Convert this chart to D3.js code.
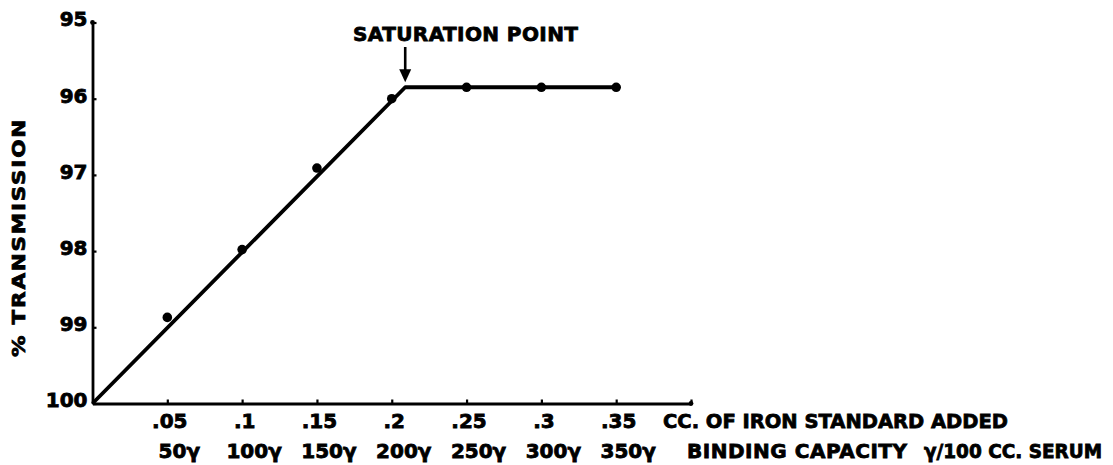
<!DOCTYPE html>
<html>
<head>
<meta charset="utf-8">
<script src="https://cdn.jsdelivr.net/npm/d3@7"></script>
<style>
  html, body { margin: 0; padding: 0; background: #fff; }
  svg text { font-family: "DejaVu Sans", "Liberation Sans", sans-serif; font-weight: bold; fill: #000; stroke: #000; stroke-width: 0.8px; }
</style>
</head>
<body>
<svg id="chart" width="1113" height="465"></svg>
<script>
// ---- data ----
const xTickValues = [0.05, 0.10, 0.15, 0.20, 0.25, 0.30, 0.35, 0.40];
const xTickLabels = [".05", ".1", ".15", ".2", ".25", ".3", ".35", ""];
const xTickLabels2 = ["50γ", "100γ", "150γ", "200γ", "250γ", "300γ", "350γ"];
const yTickValues = [95, 96, 97, 98, 99, 100];
const yTickLabels = ["95", "96", "97", "98", "99", "100"];

// measured points (cc of iron standard added, % transmission)
const pointX = [0.05, 0.10, 0.15, 0.20, 0.25, 0.30, 0.35];
const pointY = [98.87, 97.98, 96.91, 96.00, 95.85, 95.85, 95.85];

// fitted line: linear rise to saturation point, then flat
const fitX = [0, 0.209, 0.35];
const fitY = [100, 95.85, 95.85];

const saturationX = 0.209;
const saturationY = 95.85;

const xTitle1 = "CC. OF IRON STANDARD ADDED";
const xTitle2a = "BINDING CAPACITY";
const xTitle2b = "γ/100 CC. SERUM";
const yTitle = "% TRANSMISSION";
const annotation = "SATURATION POINT";

// ---- drawing ----
const svg = d3.select("#chart");
const x = d3.scaleLinear().domain([0, 0.40]).range([92.5, 691]);
const y = d3.scaleLinear().domain([95, 100]).range([22.5, 403.5]);

// x axis
const xAxis = d3.axisBottom(x)
  .tickValues(xTickValues)
  .tickFormat((d, i) => xTickLabels[i])
  .tickSize(-4)
  .tickSizeOuter(0)
  .tickPadding(10);
const gx = svg.append("g").attr("transform", `translate(0,${y(100)})`).call(xAxis);
gx.select(".domain").attr("stroke", "#000").attr("stroke-width", 2.8);
gx.selectAll(".tick line").attr("stroke", "#000").attr("stroke-width", 2.2);
gx.selectAll(".tick text").attr("font-size", 20).attr("dx", 2)
  .attr("font-family", "DejaVu Sans").attr("font-weight", "bold").attr("fill", "#000");

// second row of x labels
svg.append("g").selectAll("text")
  .data(xTickLabels2)
  .join("text")
  .attr("x", (d, i) => x(xTickValues[i]) + 12)
  .attr("y", 458)
  .attr("text-anchor", "middle")
  .attr("font-size", 20)
  .text(d => d);

// y axis
const yAxis = d3.axisLeft(y)
  .tickValues(yTickValues)
  .tickFormat((d, i) => yTickLabels[i])
  .tickSize(-4)
  .tickSizeOuter(0)
  .tickPadding(5);
const gy = svg.append("g").attr("transform", `translate(${x(0)},0)`).call(yAxis);
gy.select(".domain").attr("stroke", "#000").attr("stroke-width", 2.8);
gy.selectAll(".tick line").attr("stroke", "#000").attr("stroke-width", 2.2);
gy.selectAll(".tick text").attr("font-size", 20).attr("dy", "0.17em")
  .attr("font-family", "DejaVu Sans").attr("font-weight", "bold").attr("fill", "#000");

// axis end dots
svg.append("circle").attr("cx", x(0.40)).attr("cy", y(100)).attr("r", 2.4).attr("fill", "#000");
svg.append("circle").attr("cx", x(0)).attr("cy", y(95)).attr("r", 2.4).attr("fill", "#000");

// fitted line
const line = d3.line().x(d => x(d[0])).y(d => y(d[1]));
svg.append("path")
  .datum(fitX.map((v, i) => [v, fitY[i]]))
  .attr("d", line)
  .attr("fill", "none")
  .attr("stroke", "#000")
  .attr("stroke-width", 3.8)
  .attr("stroke-linejoin", "round");

// points
svg.append("g").selectAll("circle")
  .data(pointX.map((v, i) => [v, pointY[i]]))
  .join("circle")
  .attr("cx", d => x(d[0]))
  .attr("cy", d => y(d[1]))
  .attr("r", 4.8)
  .attr("fill", "#000");

// saturation annotation
const ax = x(saturationX);
const tipY = y(saturationY) - 5;
svg.append("line")
  .attr("x1", ax).attr("x2", ax)
  .attr("y1", 47).attr("y2", tipY - 8)
  .attr("stroke", "#000").attr("stroke-width", 2.6);
svg.append("path")
  .attr("d", `M${ax - 6},${tipY - 13} L${ax + 6},${tipY - 13} L${ax},${tipY} Z`)
  .attr("fill", "#000");
svg.append("text")
  .attr("x", 353).attr("y", 41)
  .attr("font-size", 20)
  .attr("textLength", 225)
  .text(annotation);

// axis titles
svg.append("text")
  .attr("x", 663).attr("y", 428)
  .attr("font-size", 20)
  .attr("textLength", 345)
  .attr("lengthAdjust", "spacingAndGlyphs")
  .text(xTitle1);
svg.append("text")
  .attr("x", 687).attr("y", 458)
  .attr("font-size", 20)
  .attr("textLength", 220)
  .text(xTitle2a);
svg.append("text")
  .attr("x", 924).attr("y", 458)
  .attr("font-size", 19)
  .attr("textLength", 178)
  .attr("lengthAdjust", "spacingAndGlyphs")
  .text(xTitle2b);

svg.append("text")
  .attr("transform", "translate(25,357) rotate(-90)")
  .attr("font-size", 18)
  .attr("letter-spacing", 1.5)
  .attr("textLength", 239)
  .attr("lengthAdjust", "spacingAndGlyphs")
  .text(yTitle);
</script>
</body>
</html>
